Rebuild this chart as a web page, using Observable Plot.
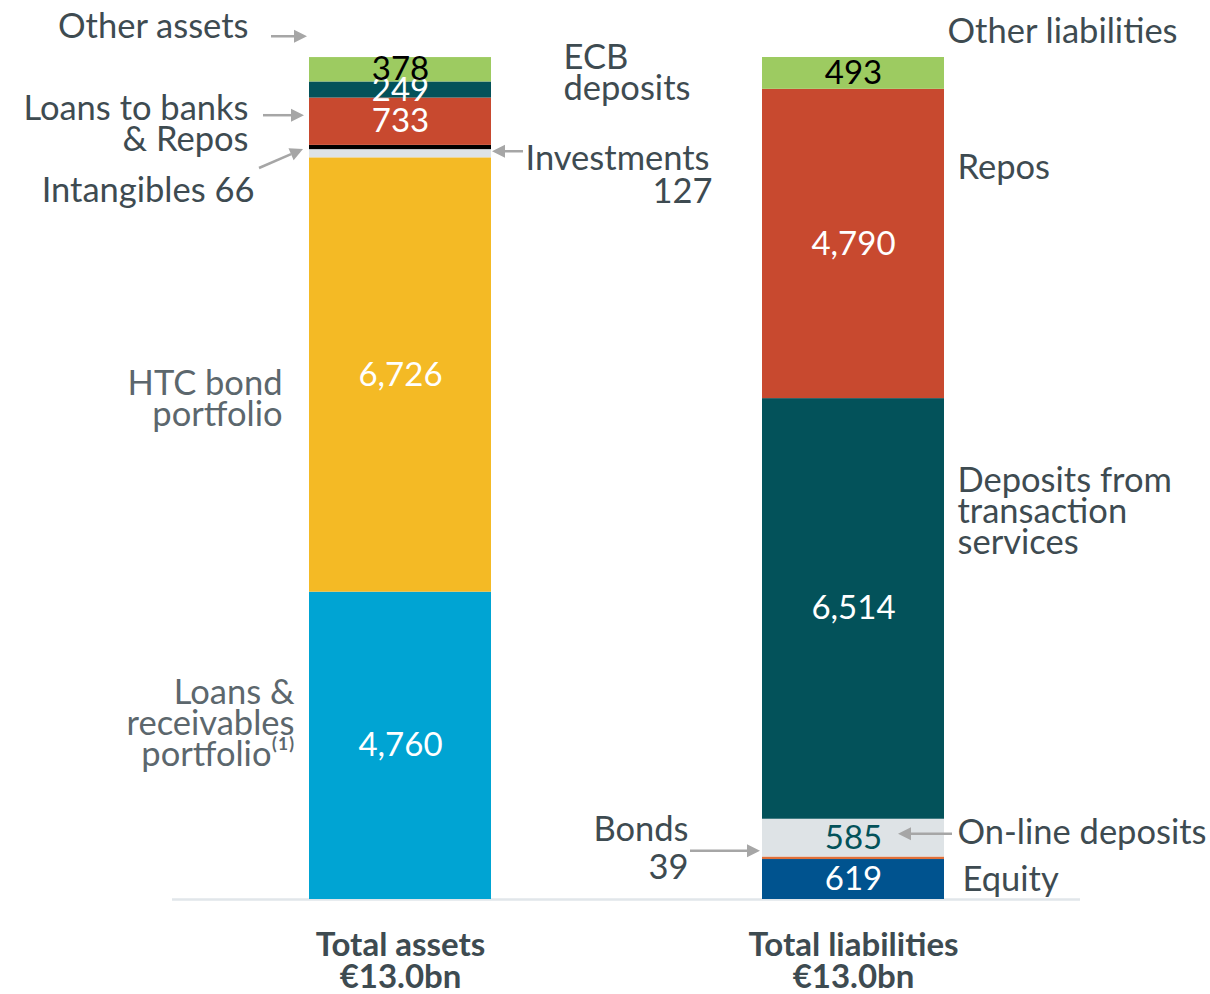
<!DOCTYPE html>
<html><head><meta charset="utf-8">
<script src="https://cdn.jsdelivr.net/npm/d3@7"></script>
<script src="https://cdn.jsdelivr.net/npm/@observablehq/plot@0.6"></script>
<style>
html,body{margin:0;padding:0;background:#fff;overflow:hidden}
#chart svg{display:block}
</style></head><body><div id="chart"></div>
<script>
// ---------- data ----------
const sides = ["Total assets", "Total liabilities"];
const totalLabels = ["€13.0bn", "€13.0bn"];
const assetNames = ["Loans & receivables portfolio", "HTC bond portfolio", "Investments", "Intangibles", "Loans to banks & Repos", "ECB deposits", "Other assets"];
const assetValues = [4760, 6726, 127, 66, 733, 249, 378];
const liabilityNames = ["Equity", "Bonds", "On-line deposits", "Deposits from transaction services", "Repos", "Other liabilities"];
const liabilityValues = [619, 39, 585, 6514, 4790, 493];
const hiddenValueLabels = ["Investments", "Intangibles", "Bonds"];

// ---------- styles ----------
const segmentColors = {
  "Loans & receivables portfolio": "#00A4D3", "HTC bond portfolio": "#F4BA25", "Investments": "#DEE3E6",
  "Intangibles": "#000000", "Loans to banks & Repos": "#C8492F", "ECB deposits": "#03525A", "Other assets": "#9DCB61",
  "Equity": "#00538F", "Bonds": "#E0703A", "On-line deposits": "#DEE3E6", "Deposits from transaction services": "#03525A",
  "Repos": "#C8492F", "Other liabilities": "#9DCB61"
};
const valueLabelColors = {"Other assets": "#000000", "Other liabilities": "#000000", "On-line deposits": "#03525A"};
const dark = "#3E4B51", light = "#5C676D", arrowColor = "#A6A6A6";
const labelSize = 34.5, valueSize = 33, titleSize = 33;

// ---------- derived table ----------
function stackSide(side, names, values) {
  let acc = 0;
  return names.map((name, i) => { const y1 = acc; acc += values[i]; return {side, name, value: values[i], mid: (y1 + acc) / 2}; });
}
const rows = [...stackSide(sides[0], assetNames, assetValues), ...stackSide(sides[1], liabilityNames, liabilityValues)];
const seg = name => rows.find(r => r.name === name);
const fmt = d3.format(",");
const yMax = Math.max(d3.sum(assetValues), d3.sum(liabilityValues));

// annotation layout: offsets (px) relative to bar centre / segment middle
const notes = [
  {seg: "Other assets", text: "Other assets", anchor: "end", dx: -152, dy: -42, color: dark},
  {seg: "Loans to banks & Repos", text: "Loans to banks\n& Repos", anchor: "end", dx: -152, dy: 4, color: dark},
  {seg: "Intangibles", text: "Intangibles " + seg("Intangibles").value, anchor: "end", dx: -146, dy: 45, color: dark},
  {seg: "HTC bond portfolio", text: "HTC bond\nportfolio", anchor: "end", dx: -118, dy: 26, color: light},
  {seg: "Loans & receivables portfolio", text: "Loans &\nreceivables\nportfolio⁽¹⁾", anchor: "end", dx: -106, dy: -21, color: light},
  {seg: "ECB deposits", text: "ECB\ndeposits", anchor: "start", dx: 163, dy: -15, color: dark},
  {seg: "Investments", text: "Investments", anchor: "start", dx: 125, dy: 6, color: dark},
  {seg: "Investments", text: String(seg("Investments").value), anchor: "end", dx: 312, dy: 39, color: dark},
  {seg: "Other liabilities", text: "Other liabilities", anchor: "start", dx: 94, dy: -40, color: dark},
  {seg: "Repos", text: "Repos", anchor: "start", dx: 104, dy: -75, color: dark},
  {seg: "Deposits from transaction services", text: "Deposits from\ntransaction\nservices", anchor: "start", dx: 104, dy: -96, color: dark},
  {seg: "On-line deposits", text: "On-line deposits", anchor: "start", dx: 104, dy: -4, color: dark},
  {seg: "Equity", text: "Equity", anchor: "start", dx: 109, dy: 2, color: dark},
  {seg: "Bonds", text: "Bonds", anchor: "end", dx: -165, dy: -27, color: dark},
  {seg: "Bonds", text: String(seg("Bonds").value), anchor: "end", dx: -165, dy: 11, color: dark}
];
const arrows = [
  {seg: "Other assets", edge: "left", tip: [-2, -33], tail: [-38, -33]},
  {seg: "Loans to banks & Repos", edge: "left", tip: [-5, -6], tail: [-46, -6]},
  {seg: "Intangibles", edge: "left", tip: [-6, 2], tail: [-50, 21]},
  {seg: "Investments", edge: "right", tip: [1, -2], tail: [32, -2]},
  {seg: "Bonds", edge: "left", tip: [-2, -7], tail: [-72, -7]},
  {seg: "On-line deposits", edge: "right", tip: [-46, -4], tail: [8, -4]}
];

const plot = Plot.plot({
  width: 1210, height: 994,
  marginTop: 57, marginBottom: 95, marginLeft: 172, marginRight: 130,
  x: {domain: sides, paddingInner: 0.599, paddingOuter: 0.2996, axis: null},
  y: {domain: [0, yMax], axis: null},
  color: {type: "identity"},
  style: {fontFamily: "Lato, 'Open Sans', sans-serif", background: "white", overflow: "visible"},
  marks: [
    Plot.ruleY([0], {stroke: "#E1E6EA", strokeWidth: 2.5}),
    Plot.barY(rows, Plot.stackY({x: "side", y: "value", fill: d => segmentColors[d.name]})),
    Plot.text(rows, Plot.stackY({
      x: "side", y: "value",
      text: d => hiddenValueLabels.includes(d.name) ? "" : fmt(d.value),
      fill: d => valueLabelColors[d.name] || "#FFFFFF", fontSize: valueSize
    })),
    ...notes.map(n => Plot.text([seg(n.seg)], {
      x: "side", y: "mid", text: () => n.text, textAnchor: n.anchor, dx: n.dx, dy: n.dy,
      fill: n.color, fontSize: labelSize, lineHeight: 0.9
    })),
    Plot.text(sides, {x: d => d, y: () => 0, text: d => d, dy: 46, fontSize: titleSize, fontWeight: "bold", fill: dark}),
    Plot.text(sides, {x: d => d, y: () => 0, text: (d, i) => totalLabels[i], dy: 78, fontSize: titleSize, fontWeight: "bold", fill: dark})
  ]
});
document.getElementById("chart").append(plot);

// arrows anchored on the library's scales
const xs = plot.scale("x"), ys = plot.scale("y");
const svg = d3.select(plot);
const g = svg.append("g").attr("fill", arrowColor).attr("stroke", arrowColor);
for (const a of arrows) {
  const r = seg(a.seg);
  const x0 = xs.apply(r.side) + (a.edge === "right" ? xs.bandwidth : 0);
  const y0 = ys.apply(r.mid);
  const tx = x0 + a.tip[0], ty = y0 + a.tip[1];
  const sx = x0 + a.tail[0], sy = y0 + a.tail[1];
  const ang = Math.atan2(ty - sy, tx - sx);
  const L = 13, W = 6.5;
  const bx = tx - L * Math.cos(ang), by = ty - L * Math.sin(ang);
  g.append("line").attr("x1", sx).attr("y1", sy).attr("x2", bx).attr("y2", by).attr("stroke-width", 2.5);
  const px = -Math.sin(ang) * W, py = Math.cos(ang) * W;
  g.append("polygon").attr("stroke", "none")
    .attr("points", `${tx},${ty} ${bx + px},${by + py} ${bx - px},${by - py}`);
}
</script></body></html>
